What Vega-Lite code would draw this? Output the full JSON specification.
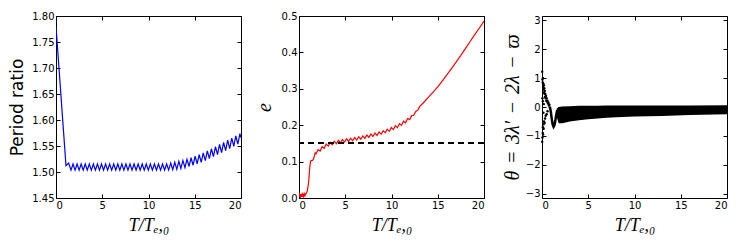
{
  "$schema": "https://vega.github.io/schema/vega-lite/v6.json",
  "padding": {"left": 8, "top": 10, "right": 0, "bottom": 0},
  "background": "white",
  "spacing": 58,
  "bounds": "flush",
  "config": {
    "view": {"stroke": "#000", "strokeWidth": 1},
    "axis": {
      "grid": false, "domain": false,
      "labelFont": "DejaVu Sans", "labelFontSize": 10, "labelColor": "#000",
      "tickColor": "#000", "tickSize": -4, "tickWidth": 1,
      "titleFontWeight": "normal", "titleColor": "#000"
    }
  },
  "hconcat": [
    {
      "width": 185, "height": 182,
      "data": {"values": [
        {"T":0,"r":1.78},{"T":1.08,"r":1.512},{"T":1.37,"r":1.517},
        {"T":1.62,"r":1.5035},{"T":1.84,"r":1.5155},{"T":2.06,"r":1.5035},{"T":2.28,"r":1.5155},{"T":2.50,"r":1.5035},{"T":2.72,"r":1.5155},{"T":2.94,"r":1.5035},{"T":3.16,"r":1.5155},{"T":3.38,"r":1.5035},{"T":3.60,"r":1.5155},{"T":3.82,"r":1.5035},{"T":4.04,"r":1.5155},{"T":4.26,"r":1.5035},{"T":4.48,"r":1.5155},{"T":4.70,"r":1.5035},{"T":4.92,"r":1.5155},{"T":5.14,"r":1.5035},{"T":5.36,"r":1.5155},{"T":5.58,"r":1.5035},{"T":5.80,"r":1.5155},{"T":6.02,"r":1.5035},{"T":6.24,"r":1.5155},{"T":6.46,"r":1.5035},{"T":6.68,"r":1.5155},{"T":6.90,"r":1.5035},{"T":7.12,"r":1.5155},{"T":7.34,"r":1.5035},{"T":7.56,"r":1.5155},{"T":7.78,"r":1.5035},{"T":8.00,"r":1.5155},{"T":8.22,"r":1.5035},{"T":8.44,"r":1.5155},{"T":8.66,"r":1.5035},{"T":8.88,"r":1.5155},{"T":9.10,"r":1.5035},{"T":9.32,"r":1.5155},{"T":9.54,"r":1.5035},{"T":9.76,"r":1.5155},{"T":9.98,"r":1.5035},{"T":10.20,"r":1.5155},{"T":10.42,"r":1.5035},{"T":10.64,"r":1.5155},{"T":10.86,"r":1.5035},{"T":11.08,"r":1.5155},{"T":11.30,"r":1.5035},{"T":11.52,"r":1.5155},{"T":11.74,"r":1.5035},{"T":11.96,"r":1.5155},
        {"T":12.18,"r":1.5037},{"T":12.40,"r":1.5170},{"T":12.62,"r":1.5047},{"T":12.84,"r":1.5188},{"T":13.06,"r":1.5052},{"T":13.28,"r":1.5204},{"T":13.50,"r":1.5068},{"T":13.72,"r":1.5222},{"T":13.94,"r":1.5083},{"T":14.16,"r":1.5245},{"T":14.38,"r":1.5106},{"T":14.60,"r":1.5274},{"T":14.82,"r":1.5130},{"T":15.04,"r":1.5303},{"T":15.26,"r":1.5157},{"T":15.48,"r":1.5336},{"T":15.70,"r":1.5186},{"T":15.92,"r":1.5368},{"T":16.14,"r":1.5217},{"T":16.36,"r":1.5407},{"T":16.58,"r":1.5257},{"T":16.80,"r":1.5447},{"T":17.02,"r":1.5296},{"T":17.24,"r":1.5489},{"T":17.46,"r":1.5333},{"T":17.68,"r":1.5529},{"T":17.90,"r":1.5372},{"T":18.12,"r":1.5571},{"T":18.34,"r":1.5411},{"T":18.56,"r":1.5611},{"T":18.78,"r":1.5451},{"T":19.00,"r":1.5650},{"T":19.22,"r":1.5492},{"T":19.44,"r":1.5694},{"T":19.66,"r":1.5536},{"T":19.88,"r":1.5738},{"T":20.0,"r":1.566}
      ]},
      "layer": [
        {
          "mark": {"type": "line", "color": "#0000ff", "strokeWidth": 1.2, "clip": true},
          "encoding": {
            "x": {"field": "T", "type": "quantitative", "scale": {"domain": [0, 20], "nice": false},
                  "axis": {"values": [0,5,10,15,20], "labelPadding": 6, "title": "T/Tₑ,₀", "titleFont": "Liberation Serif, DejaVu Serif", "titleFontStyle": "italic", "titleFontSize": 18, "titlePadding": 6}},
            "y": {"field": "r", "type": "quantitative", "scale": {"domain": [1.45, 1.8], "nice": false, "zero": false},
                  "axis": {"values": [1.45,1.5,1.55,1.6,1.65,1.7,1.75,1.8], "format": ".2f", "labelPadding": 6, "title": "Period ratio", "titleFont": "DejaVu Sans", "titleFontSize": 17, "titlePadding": 5}}
          }
        },
        {
          "mark": {"type": "point", "opacity": 0},
          "encoding": {
            "x": {"field": "T", "type": "quantitative", "scale": {"domain": [0, 20], "nice": false},
                  "axis": {"orient": "top", "values": [0,5,10,15,20], "labels": false, "title": null}},
            "y": {"field": "r", "type": "quantitative", "scale": {"domain": [1.45, 1.8], "nice": false, "zero": false},
                  "axis": {"orient": "right", "values": [1.45,1.5,1.55,1.6,1.65,1.7,1.75,1.8], "labels": false, "title": null}}
          }
        }
      ],
      "resolve": {"scale": {"x": "independent", "y": "independent"}}
    },
    {
      "width": 185, "height": 182,
      "data": {"values": [
        {"T":0,"e":0.002},{"T":0.08,"e":0.010},{"T":0.16,"e":0.003},{"T":0.24,"e":0.011},{"T":0.32,"e":0.003},{"T":0.40,"e":0.011},{"T":0.48,"e":0.004},{"T":0.56,"e":0.012},{"T":0.64,"e":0.006},{"T":0.72,"e":0.012},{"T":0.8,"e":0.013},{"T":0.9,"e":0.02},{"T":1.0,"e":0.035},{"T":1.08,"e":0.055},{"T":1.15,"e":0.08},{"T":1.22,"e":0.097},{"T":1.3,"e":0.103},{"T":1.45,"e":0.103},{"T":1.55,"e":0.106},{"T":1.65,"e":0.115},{"T":1.75,"e":0.124},
        {"T":1.84,"e":0.121},{"T":2.06,"e":0.133},{"T":2.28,"e":0.129},{"T":2.50,"e":0.141},{"T":2.72,"e":0.1365},{"T":2.94,"e":0.148},{"T":3.16,"e":0.1425},{"T":3.38,"e":0.1525},{"T":3.60,"e":0.1465},{"T":3.82,"e":0.156},{"T":4.04,"e":0.149},{"T":4.26,"e":0.1583},{"T":4.48,"e":0.1516},{"T":4.70,"e":0.1607},{"T":4.92,"e":0.1537},{"T":5.14,"e":0.1626},{"T":5.36,"e":0.1554},{"T":5.58,"e":0.1643},{"T":5.80,"e":0.1572},{"T":6.02,"e":0.1661},{"T":6.24,"e":0.1592},{"T":6.46,"e":0.1683},{"T":6.68,"e":0.1614},{"T":6.90,"e":0.1705},{"T":7.12,"e":0.1637},{"T":7.34,"e":0.173},{"T":7.56,"e":0.1664},{"T":7.78,"e":0.1757},{"T":8.00,"e":0.169},{"T":8.22,"e":0.1785},{"T":8.44,"e":0.1721},{"T":8.66,"e":0.1816},{"T":8.88,"e":0.1752},{"T":9.10,"e":0.185},{"T":9.32,"e":0.179},{"T":9.54,"e":0.189},{"T":9.76,"e":0.1831},{"T":9.98,"e":0.1935},{"T":10.20,"e":0.1881},{"T":10.42,"e":0.1987},{"T":10.64,"e":0.1934},{"T":10.86,"e":0.2043},{"T":11.08,"e":0.1995},{"T":11.30,"e":0.211},{"T":11.52,"e":0.2066},{"T":11.74,"e":0.2184},{"T":11.96,"e":0.2154},{"T":12.18,"e":0.2262},{"T":12.40,"e":0.2272},{"T":12.62,"e":0.2376},{"T":12.84,"e":0.2414},
        {"T":13.06,"e":0.2515},{"T":13.5,"e":0.263},{"T":14,"e":0.277},{"T":14.5,"e":0.291},{"T":15,"e":0.305},{"T":15.5,"e":0.322},{"T":16,"e":0.339},{"T":16.5,"e":0.356},{"T":17,"e":0.374},{"T":17.5,"e":0.392},{"T":18,"e":0.411},{"T":18.5,"e":0.43},{"T":19,"e":0.449},{"T":19.5,"e":0.467},{"T":20,"e":0.486}
      ]},
      "layer": [
        {
          "mark": {"type": "line", "color": "#ff0000", "strokeWidth": 1.2, "clip": true},
          "encoding": {
            "x": {"field": "T", "type": "quantitative", "scale": {"domain": [0, 20], "nice": false},
                  "axis": {"values": [0,5,10,15,20], "labelPadding": 6, "title": "T/Tₑ,₀", "titleFont": "Liberation Serif, DejaVu Serif", "titleFontStyle": "italic", "titleFontSize": 18, "titlePadding": 6}},
            "y": {"field": "e", "type": "quantitative", "scale": {"domain": [0, 0.5], "nice": false},
                  "axis": {"values": [0,0.1,0.2,0.3,0.4,0.5], "format": ".1f", "labelPadding": 6, "title": "e", "titleFont": "Liberation Serif, DejaVu Serif", "titleFontStyle": "italic", "titleFontSize": 20, "titlePadding": 7}}
          }
        },
        {
          "mark": {"type": "rule", "color": "#000", "strokeWidth": 1.2, "strokeDash": [6, 4]},
          "encoding": {"y": {"datum": 0.15, "type": "quantitative", "scale": {"domain": [0, 0.5], "nice": false}, "axis": null}}
        },
        {
          "mark": {"type": "point", "opacity": 0},
          "encoding": {
            "x": {"field": "T", "type": "quantitative", "scale": {"domain": [0, 20], "nice": false},
                  "axis": {"orient": "top", "values": [0,5,10,15,20], "labels": false, "title": null}},
            "y": {"field": "e", "type": "quantitative", "scale": {"domain": [0, 0.5], "nice": false},
                  "axis": {"orient": "right", "values": [0,0.1,0.2,0.3,0.4,0.5], "labels": false, "title": null}}
          }
        }
      ],
      "resolve": {"scale": {"x": "independent", "y": "independent"}}
    },
    {
      "width": 185, "height": 182,
      "layer": [
        {
          "data": {"values": [
            {"T":1.6,"lo":-0.35,"hi":-0.05},{"T":1.8,"lo":-0.56,"hi":0.0},{"T":2.2,"lo":-0.56,"hi":0.02},{"T":3,"lo":-0.5,"hi":0.03},{"T":4,"lo":-0.46,"hi":0.04},{"T":5,"lo":-0.42,"hi":0.045},{"T":6,"lo":-0.4,"hi":0.045},{"T":7,"lo":-0.37,"hi":0.05},{"T":8,"lo":-0.35,"hi":0.05},{"T":10,"lo":-0.33,"hi":0.05},{"T":13,"lo":-0.31,"hi":0.05},{"T":16,"lo":-0.28,"hi":0.055},{"T":20,"lo":-0.25,"hi":0.06}
          ]},
          "mark": {"type": "area", "color": "#000", "opacity": 1},
          "encoding": {
            "x": {"field": "T", "type": "quantitative", "scale": {"domain": [0, 20], "nice": false},
                  "axis": {"values": [0,5,10,15,20], "labelPadding": 6, "title": "T/Tₑ,₀", "titleFont": "Liberation Serif, DejaVu Serif", "titleFontStyle": "italic", "titleFontSize": 18, "titlePadding": 6}},
            "y": {"field": "lo", "type": "quantitative", "scale": {"domain": [-3.1416, 3.1416], "nice": false, "zero": false},
                  "axis": {"values": [-3,-2,-1,0,1,2,3], "format": "d", "labelPadding": 6, "title": "θ\u2004=\u20043λ′\u2004−\u20042λ\u2004−\u2004ϖ", "titleFont": "Liberation Serif, DejaVu Serif", "titleFontStyle": "italic", "titleFontSize": 20, "titlePadding": 3}},
            "y2": {"field": "hi"}
          }
        },
        {
          "data": {"values": [
            {"T":0.85,"th":0.0},{"T":0.95,"th":-0.15},{"T":1.05,"th":-0.4},{"T":1.15,"th":-0.6},{"T":1.25,"th":-0.68},{"T":1.35,"th":-0.62},{"T":1.45,"th":-0.45},{"T":1.55,"th":-0.25},{"T":1.65,"th":-0.1}
          ]},
          "mark": {"type": "line", "color": "#000", "strokeWidth": 2.5},
          "encoding": {
            "x": {"field": "T", "type": "quantitative", "scale": {"domain": [0, 20], "nice": false}, "axis": null},
            "y": {"field": "th", "type": "quantitative", "scale": {"domain": [-3.1416, 3.1416], "nice": false, "zero": false}, "axis": null}
          }
        },
        {
          "data": {"values": [
            {"T":0.02,"th":1.22},{"T":0.02,"th":-1.2},{"T":0.05,"th":0.95},{"T":0.05,"th":-1.05},{"T":0.05,"th":0.3},{"T":0.08,"th":0.85},{"T":0.08,"th":-0.9},{"T":0.1,"th":1.0},{"T":0.1,"th":-0.7},{"T":0.1,"th":0.2},{"T":0.12,"th":0.7},{"T":0.12,"th":-0.95},{"T":0.15,"th":0.8},{"T":0.15,"th":-0.6},{"T":0.15,"th":-0.2},{"T":0.18,"th":0.6},{"T":0.18,"th":-0.75},{"T":0.2,"th":0.75},{"T":0.2,"th":0.1},{"T":0.22,"th":0.5},{"T":0.22,"th":-0.5},{"T":0.25,"th":0.65},{"T":0.28,"th":0.45},{"T":0.28,"th":-0.55},{"T":0.3,"th":0.55},{"T":0.33,"th":0.35},{"T":0.33,"th":-0.4},{"T":0.36,"th":0.45},{"T":0.4,"th":0.3},{"T":0.4,"th":-0.3},{"T":0.43,"th":0.38},{"T":0.46,"th":0.22},{"T":0.5,"th":0.3},{"T":0.5,"th":-0.25},{"T":0.55,"th":0.18},{"T":0.6,"th":0.22},{"T":0.6,"th":-0.15},{"T":0.65,"th":0.12},{"T":0.7,"th":0.15},{"T":0.75,"th":0.05},{"T":0.8,"th":0.08},{"T":0.85,"th":-0.02}
          ]},
          "mark": {"type": "circle", "color": "#000", "size": 6, "opacity": 1},
          "encoding": {
            "x": {"field": "T", "type": "quantitative", "scale": {"domain": [0, 20], "nice": false}, "axis": null},
            "y": {"field": "th", "type": "quantitative", "scale": {"domain": [-3.1416, 3.1416], "nice": false, "zero": false}, "axis": null}
          }
        },
        {
          "data": {"values": [{"T":0,"th":0},{"T":20,"th":0}]},
          "mark": {"type": "point", "opacity": 0},
          "encoding": {
            "x": {"field": "T", "type": "quantitative", "scale": {"domain": [0, 20], "nice": false},
                  "axis": {"orient": "top", "values": [0,5,10,15,20], "labels": false, "title": null}},
            "y": {"field": "th", "type": "quantitative", "scale": {"domain": [-3.1416, 3.1416], "nice": false, "zero": false},
                  "axis": {"orient": "right", "values": [-3,-2,-1,0,1,2,3], "labels": false, "title": null}}
          }
        }
      ],
      "resolve": {"scale": {"x": "independent", "y": "independent"}}
    }
  ]
}
